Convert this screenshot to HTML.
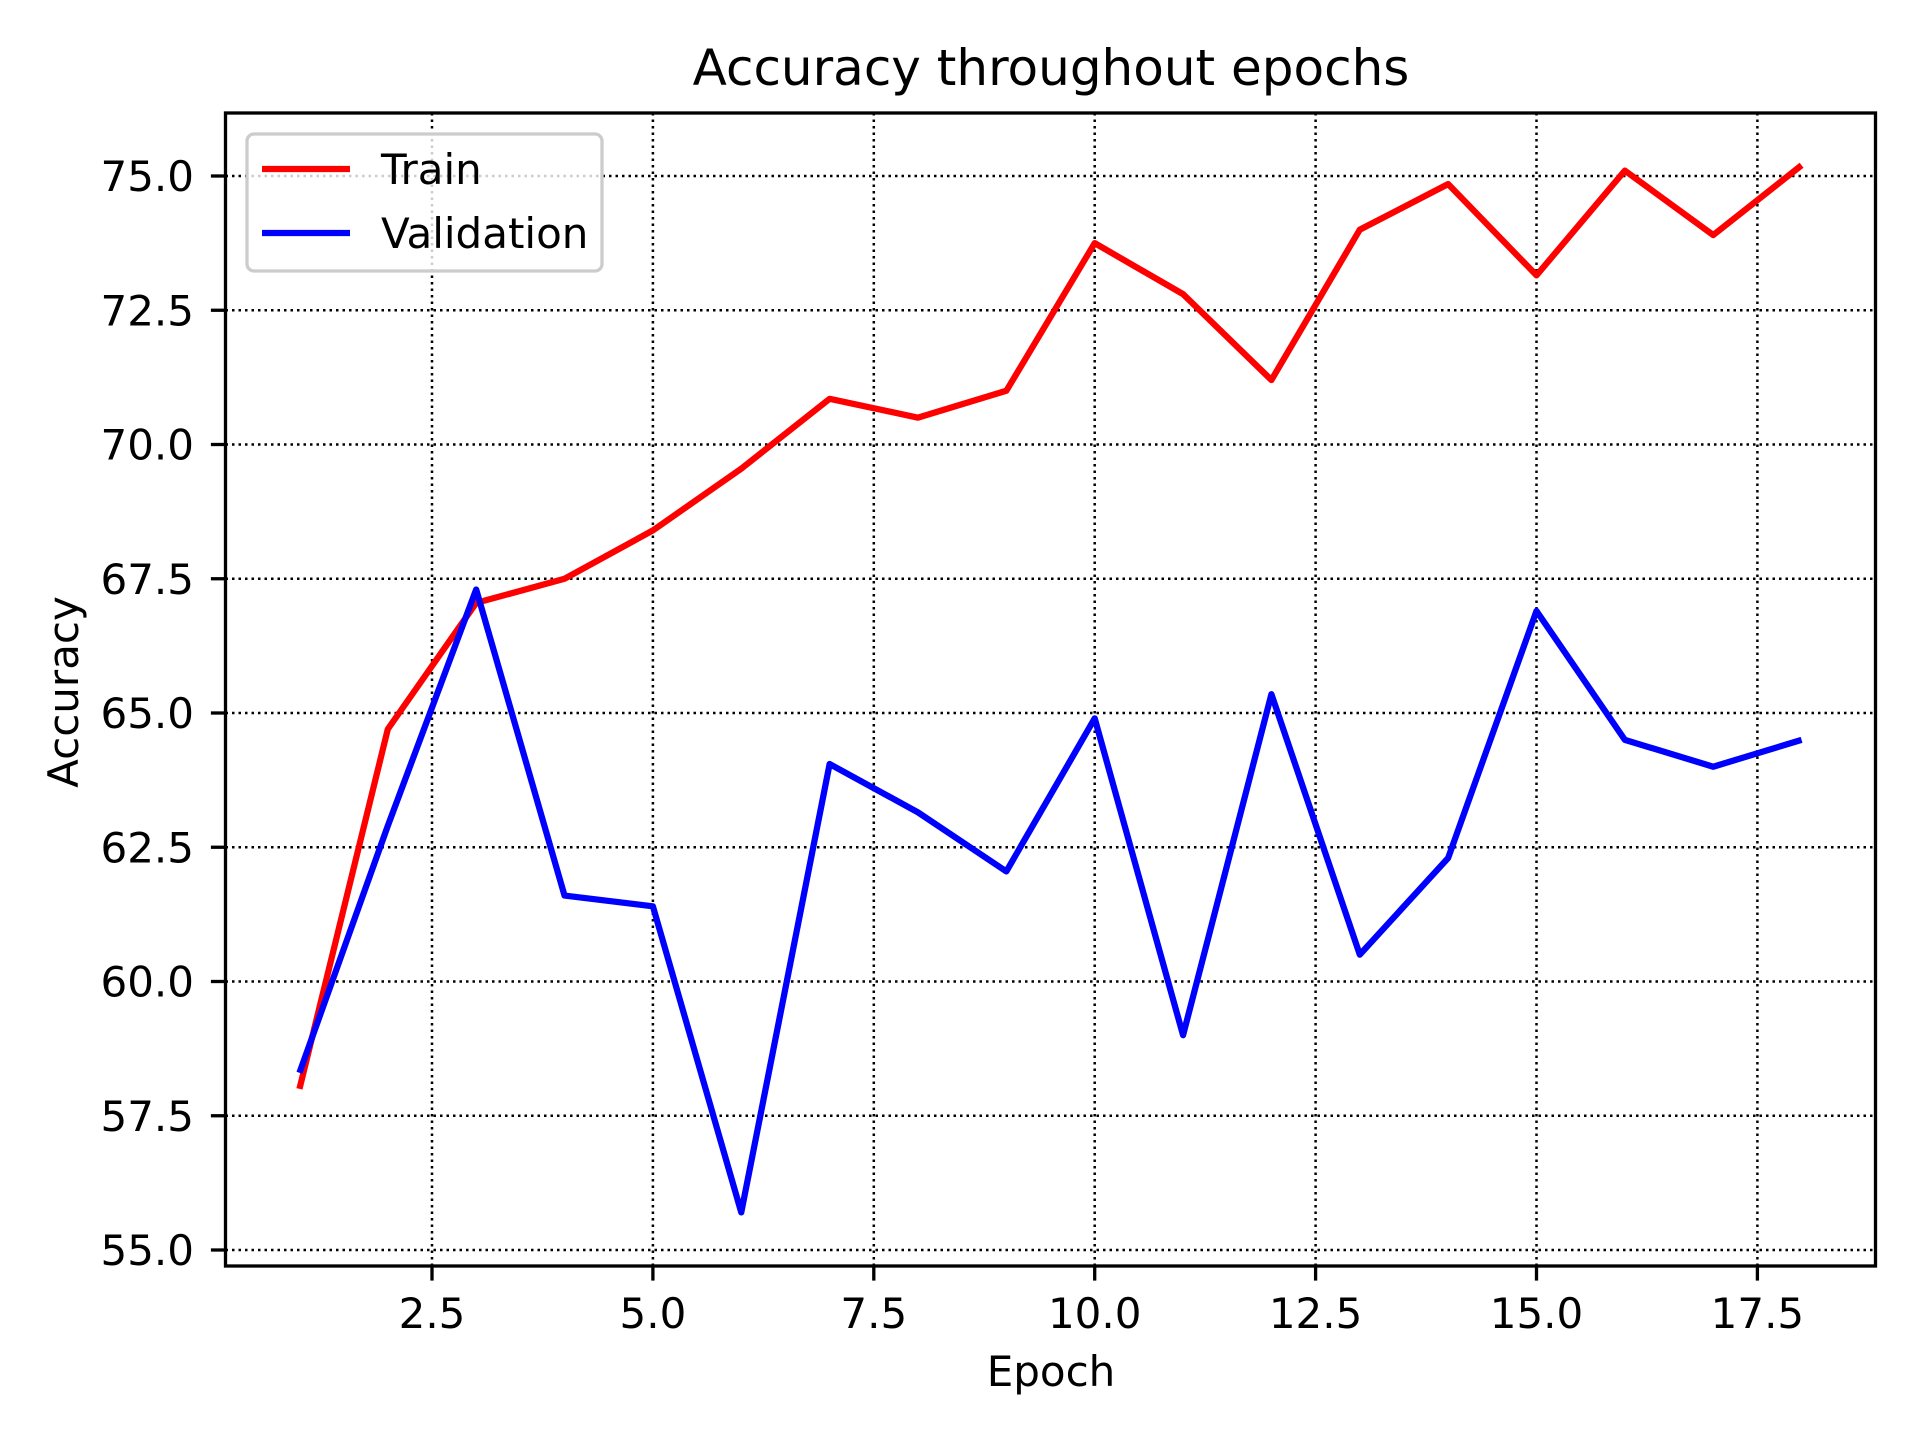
<!DOCTYPE html>
<html><head><meta charset="utf-8"><style>body{margin:0;background:#fff}svg{display:block}text{font-family:"DejaVu Sans","Liberation Sans",sans-serif;fill:#000}</style></head>
<body>
<svg id="chart" width="1920" height="1440" viewBox="0 0 1920 1440" xmlns="http://www.w3.org/2000/svg">
<text x="1051" y="85" font-size="50" text-anchor="middle">Accuracy throughout epochs</text>
<g id="grid"></g><g id="ticks"></g><g id="series"></g>
<rect x="225.5" y="113" width="1650" height="1153" fill="none" stroke="#000" stroke-width="3.3"/>
<text x="1051" y="1386" font-size="42" text-anchor="middle">Epoch</text>
<text x="78" y="692" font-size="42" text-anchor="middle" transform="rotate(-90 78 692)">Accuracy</text>
<g>
<rect x="247" y="134" width="355" height="137" rx="7" fill="#fff" fill-opacity="0.8" stroke="#ccc" stroke-width="3.3"/>
<line x1="262" y1="169" x2="350" y2="169" stroke="#f00" stroke-width="6.25"/>
<text x="381" y="184" font-size="42">Train</text>
<line x1="262" y1="233" x2="350" y2="233" stroke="#00f" stroke-width="6.25"/>
<text x="381" y="248" font-size="42">Validation</text>
</g>
</svg>
<script>
const epochs=[1,2,3,4,5,6,7,8,9,10,11,12,13,14,15,16,17,18];
const trainAcc=[58.0,64.7,67.05,67.5,68.4,69.55,70.85,70.5,71.0,73.75,72.8,71.2,74.0,74.85,73.15,75.1,73.9,75.2];
const valAcc=[58.3,62.9,67.3,61.6,61.4,55.7,64.05,63.15,62.05,64.9,59.0,65.35,60.5,62.3,66.9,64.5,64.0,64.5];
const xTicks=[2.5,5.0,7.5,10.0,12.5,15.0,17.5];
const yTicks=[55.0,57.5,60.0,62.5,65.0,67.5,70.0,72.5,75.0];
const NS="http://www.w3.org/2000/svg";
const L=225.5,R=1875.5,T=113,B=1266;
function xs(v){return 432+(v-2.5)*88.36;}
function ys(v){return 1250-(v-55)*53.7;}
function mk(t,a,p){const e=document.createElementNS(NS,t);for(const k in a)e.setAttribute(k,a[k]);p.appendChild(e);return e;}
const grid=document.getElementById('grid'),ticks=document.getElementById('ticks'),ser=document.getElementById('series');
xTicks.forEach(v=>{const x=xs(v);
 const g=mk('line',{x1:x,x2:x,y1:T,y2:B,stroke:'#000','stroke-width':2.5,'stroke-dasharray':'2.5 4'},grid);
 
 
 mk('line',{x1:x,x2:x,y1:B,y2:B+14.6,stroke:'#000','stroke-width':3.3},ticks);
 const t=mk('text',{x:x,y:1328,'font-size':42,'text-anchor':'middle'},ticks);t.textContent=v.toFixed(1);
 
 });
yTicks.forEach(v=>{const y=ys(v);
 const g=mk('line',{x1:L,x2:R,y1:y,y2:y,stroke:'#000','stroke-width':2.5,'stroke-dasharray':'2.5 4'},grid);
 
 
 mk('line',{x1:L-14.6,x2:L,y1:y,y2:y,stroke:'#000','stroke-width':3.3},ticks);
 const t=mk('text',{x:194,y:y+15,'font-size':42,'text-anchor':'end'},ticks);t.textContent=v.toFixed(1);
 
 });
function line(d,c,n){const p=mk('polyline',{points:d.map((v,i)=>xs(epochs[i])+','+ys(v)).join(' '),fill:'none',stroke:c,'stroke-width':6.25,'stroke-linejoin':'round'},ser);
 
 }
line(trainAcc,'#f00','train-line');
line(valAcc,'#00f','validation-line');
</script>
</body></html>
